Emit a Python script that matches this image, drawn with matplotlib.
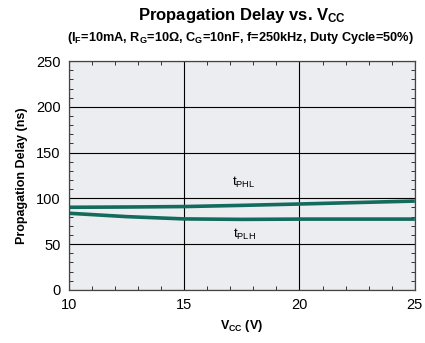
import matplotlib
matplotlib.use("Agg")
import matplotlib.pyplot as plt
from matplotlib.ticker import MultipleLocator

plt.rcParams['font.family'] = ['Liberation Sans', 'DejaVu Sans']
plt.rcParams['mathtext.fontset'] = 'custom'
plt.rcParams['mathtext.rm'] = 'Liberation Sans'
plt.rcParams['mathtext.it'] = 'Liberation Sans'
plt.rcParams['mathtext.bf'] = 'Liberation Sans:bold'

# --- dados ---
vcc = [10, 12.5, 15, 17.5, 20, 22.5, 25]
t_phl = [90.2, 90.5, 91.0, 92.3, 93.8, 95.4, 97.0]
t_plh = [83.7, 80.0, 77.5, 77.0, 77.3, 77.3, 77.3]

cor = '#126b5c'

fig = plt.figure(figsize=(4.25, 3.43), dpi=100)
ax = fig.add_axes([0.162, 0.155, 0.814, 0.667])
ax.set_facecolor('#ebedf0')

ax.plot(vcc, t_phl, color=cor, lw=2.6, solid_capstyle='butt')
ax.plot(vcc, t_plh, color=cor, lw=2.6, solid_capstyle='butt')

ax.text(17.6, 117, r'$\mathrm{t_{PHL}}$', ha='center', va='center', fontsize=9.5)
ax.text(17.6, 60, r'$\mathrm{t_{PLH}}$', ha='center', va='center', fontsize=9.5)

ax.set_xlim(10, 25)
ax.set_ylim(0, 250)
ax.xaxis.set_major_locator(MultipleLocator(5))
ax.xaxis.set_minor_locator(MultipleLocator(1))
ax.yaxis.set_major_locator(MultipleLocator(50))
ax.yaxis.set_minor_locator(MultipleLocator(10))
ax.grid(True, which='major', color='black', lw=0.8)
ax.tick_params(which='both', direction='in', top=True, right=True, labelsize=10.5, color='#333333')
ax.tick_params(which='major', length=0, pad=6)
ax.tick_params(which='minor', length=3, width=0.7)
for s in ax.spines.values():
    s.set_linewidth(0.9)
    s.set_color('#444444')

ax.set_xlabel(r'$\mathbf{V_{CC}}$ (V)', fontsize=9, fontweight='bold')
ax.set_ylabel('Propagation Delay (ns)', fontsize=9, fontweight='bold', labelpad=6)

fig.text(0.57, 0.955, r'Propagation Delay vs. $\mathbf{V_{CC}}$', ha='center', va='center',
         fontsize=12, fontweight='bold')
fig.text(0.565, 0.89, r'($\mathbf{I_F}$=10mA, $\mathbf{R_G}$=10Ω, $\mathbf{C_G}$=10nF, f=250kHz, Duty Cycle=50%)',
         ha='center', va='center', fontsize=9.2, fontweight='bold')

fig.savefig('out.png', dpi=100)
